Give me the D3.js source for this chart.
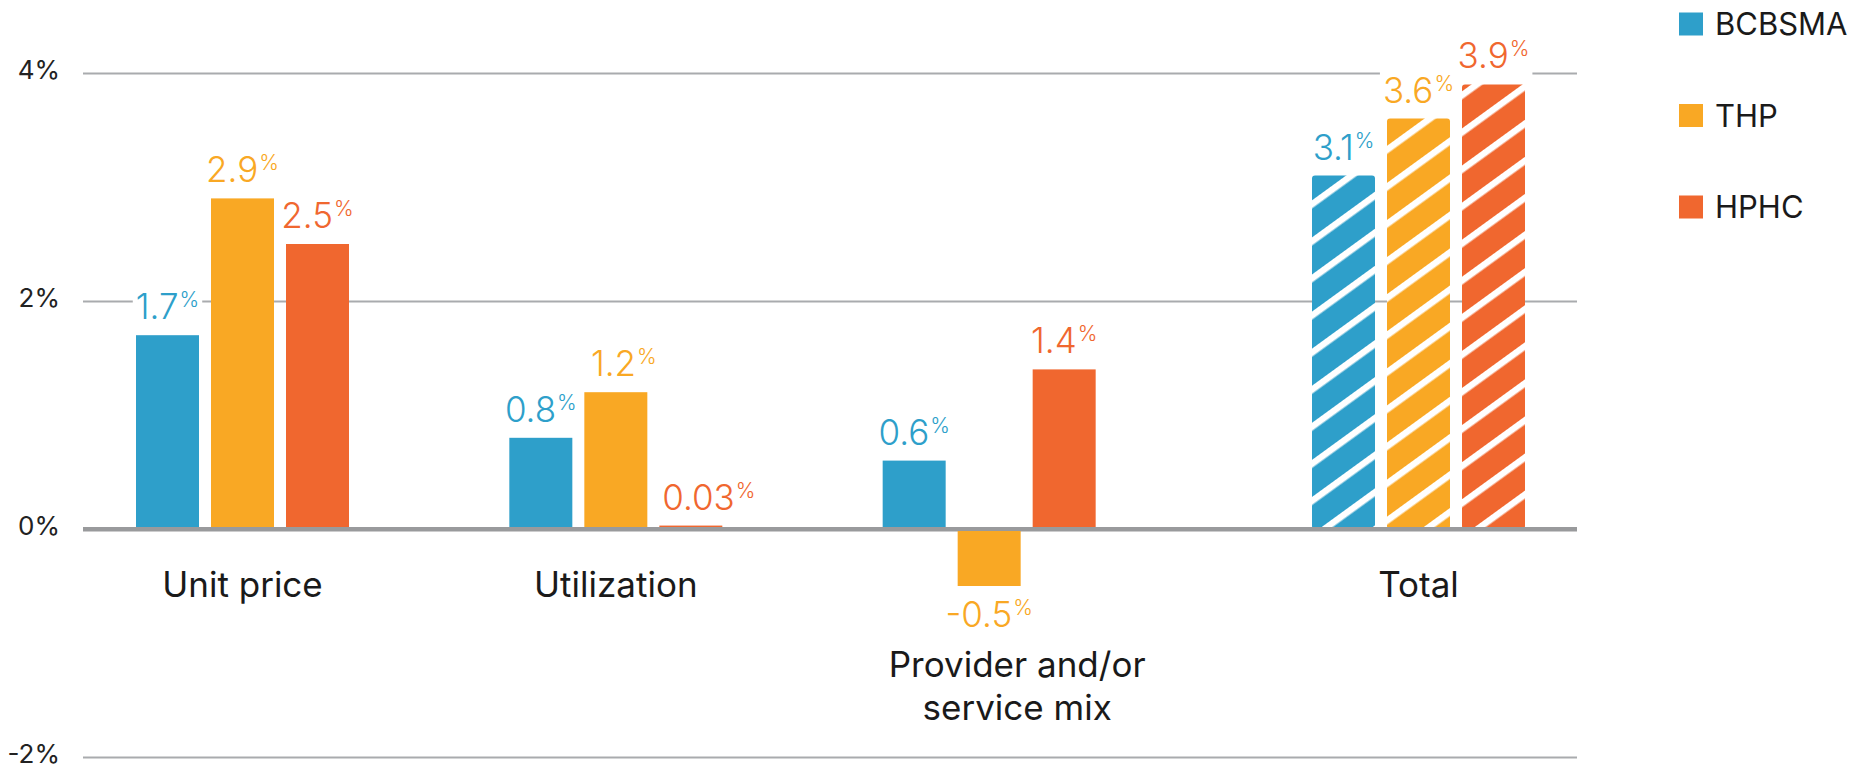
<!DOCTYPE html>
<html><head><meta charset="utf-8">
<script src="https://cdn.jsdelivr.net/npm/d3@7"></script>
<style>
html,body{margin:0;padding:0;background:#fff;}
svg text{font-family:Inter,"Noto Sans",sans-serif;}
</style></head>
<body>
<svg id="chart" width="1862" height="764"></svg>
<script>
// ---- data ----
const categories = ["Unit price", "Utilization", "Provider and/or service mix", "Total"];
const categoryLines = [["Unit price"], ["Utilization"], ["Provider and/or", "service mix"], ["Total"]];
const series = ["BCBSMA", "THP", "HPHC"];
const bcbsma = [1.7, 0.8, 0.6, 3.1];
const thp    = [2.9, 1.2, -0.5, 3.6];
const hphc   = [2.5, 0.03, 1.4, 3.9];
const valueLabels = {
  BCBSMA: ["1.7", "0.8", "0.6", "3.1"],
  THP:    ["2.9", "1.2", "-0.5", "3.6"],
  HPHC:   ["2.5", "0.03", "1.4", "3.9"]
};
const yTicks = [-2, 0, 2, 4];
const hatchedCategory = "Total";

// ---- layout ----
const colors = {BCBSMA: "#2e9fca", THP: "#f9a824", HPHC: "#f0672f"};
const slots = [0, 1, 2, 3.15];      // Total sits a little further apart
const labelNudge = {"HPHC|Utilization": 18, "THP|Utilization": 8};
const values = {BCBSMA: bcbsma, THP: thp, HPHC: hphc};

const svg = d3.select("#chart");
const gridX0 = 83, gridX1 = 1577;

const y = d3.scaleLinear().domain([-2, 4]).range([757, 73]);
const x = d3.scaleLinear().domain([0, 3.15]).range([242.5, 1418.5]);
const xs = d3.scaleBand().domain(series).range([-106.5, 106.5]).paddingInner(0.16).paddingOuter(0);

// patterns
const defs = svg.append("defs");
series.forEach(s => {
  const p = defs.append("pattern")
    .attr("id", "hatch-" + s)
    .attr("patternUnits", "userSpaceOnUse")
    .attr("width", 30).attr("height", 30)
    .attr("patternTransform", "translate(0,4) rotate(54)");
  p.append("rect").attr("width", 30).attr("height", 30).attr("fill", colors[s]);
  p.append("rect").attr("x", 0).attr("width", 6.5).attr("height", 30).attr("fill", "#fff");
});

// axis / gridlines
const axis = d3.axisLeft(y)
  .tickValues(yTicks)
  .tickSize(-(gridX1 - gridX0))
  .tickPadding(23)
  .tickFormat(d => (d < 0 ? "-" : "") + Math.abs(d) + "%");
const ax = svg.append("g").attr("transform", `translate(${gridX0},0)`).call(axis);
ax.select(".domain").remove();
ax.selectAll(".tick line")
  .attr("stroke", d => d === 0 ? "#999a9c" : "#a9abae")
  .attr("stroke-width", d => d === 0 ? 4 : 2);
ax.selectAll(".tick text")
  .attr("font-size", 26)
  .attr("fill", "#222")
  .attr("dy", "0.2em")
  .style("font-family", "Inter, 'Noto Sans', sans-serif");

// rows
const rows = [];
categories.forEach((c, i) => series.forEach(s => rows.push({c, i, s, v: values[s][i], label: valueLabels[s][i]})));

const gLabBg = svg.append("g");
const gBars = svg.append("g");
const gZero = svg.append("g");
const gLab = svg.append("g");

// bars
gBars.selectAll("rect").data(rows).join("rect")
  .attr("x", d => x(slots[d.i]) + xs(d.s))
  .attr("width", xs.bandwidth())
  .attr("y", d => y(Math.max(0, d.v)))
  .attr("height", d => Math.abs(y(d.v) - y(0)))
  .attr("rx", d => d.c === hatchedCategory ? 3 : 0)
  .attr("fill", d => d.c === hatchedCategory ? `url(#hatch-${d.s})` : colors[d.s]);

// zero line over bar bottoms
gZero.append("line")
  .attr("x1", gridX0).attr("x2", gridX1)
  .attr("y1", y(0)).attr("y2", y(0))
  .attr("stroke", "#999a9c").attr("stroke-width", 4);

// value labels
rows.forEach(d => {
  const cx = x(slots[d.i]) + xs(d.s) + xs.bandwidth() / 2 + (labelNudge[d.s + "|" + d.c] || 0);
  const by = d.v >= 0 ? y(d.v) - 16 : y(d.v) + 41;
  const t = gLab.append("text")
    .attr("x", cx).attr("y", by)
    .attr("text-anchor", "middle")
    .attr("font-size", 35)
    .attr("font-weight", 300)
    .attr("fill", colors[d.s]);
  t.append("tspan").text(d.label);
  t.append("tspan").attr("font-size", 21).attr("dx", 1).attr("dy", -12).text("%");
  const bb = t.node().getBBox();
  gLabBg.append("rect")
    .attr("x", bb.x - 3).attr("y", bb.y)
    .attr("width", bb.width + 6).attr("height", bb.height)
    .attr("fill", "#fff");
});

// category labels
const gCat = svg.append("g");
categories.forEach((c, i) => {
  const minV = d3.min(series, s => values[s][i]);
  const base = minV < 0 ? y(minV) + 91 : y(0) + 68;
  const cx = x(slots[i]) + (minV < 0 ? 28 : 0);
  const t = gCat.append("text")
    .attr("x", cx)
    .attr("y", base)
    .attr("text-anchor", "middle")
    .attr("font-size", 35)
    .attr("fill", "#1a1a1a");
  categoryLines[i].forEach((ln, k) => {
    t.append("tspan").attr("x", cx).attr("dy", k === 0 ? 0 : 43).text(ln);
  });
});

// legend
const legendY = d3.scalePoint().domain(series).range([24, 207]);
const gLeg = svg.append("g");
series.forEach(s => {
  gLeg.append("rect")
    .attr("x", 1679).attr("y", legendY(s) - 11.5)
    .attr("width", 24).attr("height", 23)
    .attr("fill", colors[s]);
  gLeg.append("text")
    .attr("x", 1715).attr("y", legendY(s) + 11)
    .attr("font-size", 31)
    .attr("fill", "#1a1a1a")
    .text(s);
});
</script>
</body></html>
